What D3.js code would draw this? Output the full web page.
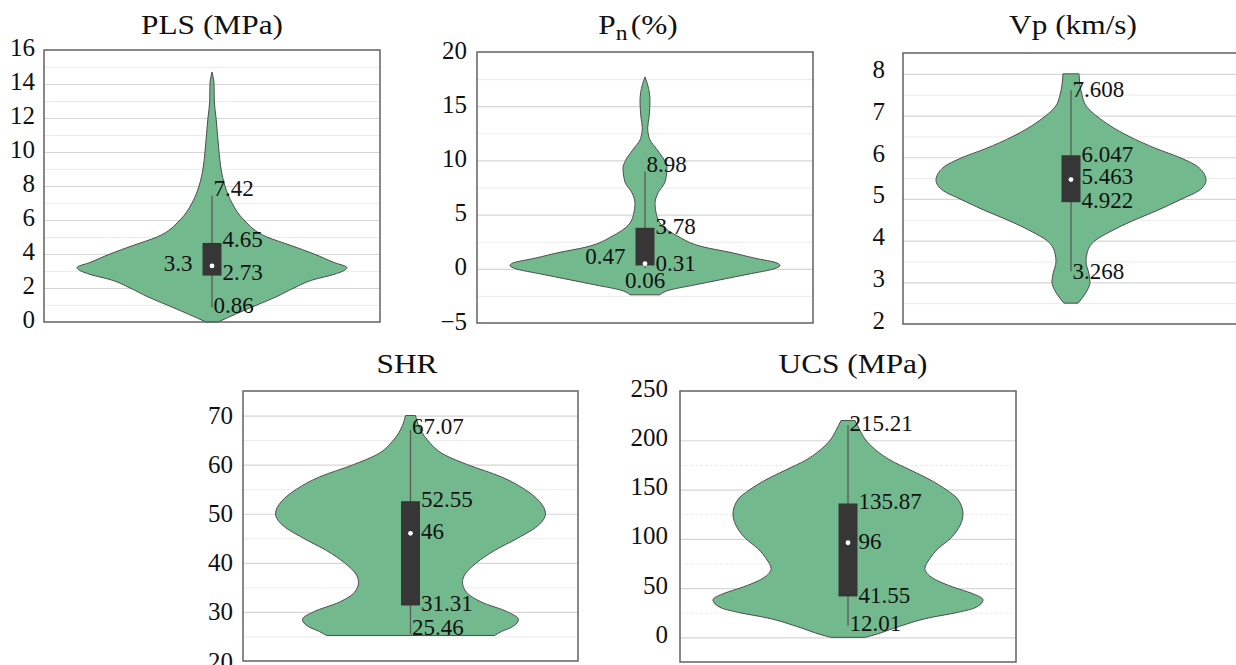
<!DOCTYPE html>
<html><head><meta charset="utf-8">
<script src="https://cdn.jsdelivr.net/npm/d3@7"></script>
<style>html,body{margin:0;padding:0;background:#fff;}svg{display:block;}</style>
</head><body>
<svg id="chart" width="1236" height="665"></svg>
<script>
// ---------------- DATA ----------------
// Violin profiles: value (y) and relative kernel density (widest = 1), top to bottom
const plsValues  = [14.7, 14, 13, 12, 11, 10, 9, 8, 7, 6, 5, 4.5, 4, 3.5, 3.2, 2.8, 2.5, 2, 1.5, 1, 0.5, 0];
const plsDensity = [0, 0.015, 0.017, 0.03, 0.041, 0.052, 0.067, 0.096, 0.148, 0.237, 0.407, 0.585, 0.756, 0.904, 1.0, 0.904, 0.756, 0.607, 0.481, 0.333, 0.185, 0.044];
const plsStats   = [0.86, 2.73, 3.3, 4.65, 7.42];      // min, q1, median, q3, max
const plsLabels  = ["0.86", "2.73", "3.3", "4.65", "7.42"];
const plsTicks   = [0, 2, 4, 6, 8, 10, 12, 14, 16];
const plsMinor   = [1, 3, 5, 7, 9, 11, 13, 15];

const pnValues  = [17.7, 17, 15.5, 14, 13, 12, 11, 10, 9.3, 8, 7, 6, 5, 4, 3, 2, 1.5, 1, 0.5, 0.3, 0, -0.5, -1, -1.5, -2, -2.4];
const pnDensity = [0, 0.019, 0.037, 0.03, 0.02, 0.033, 0.089, 0.144, 0.163, 0.148, 0.096, 0.074, 0.085, 0.126, 0.244, 0.437, 0.637, 0.807, 0.985, 1.0, 0.956, 0.763, 0.563, 0.363, 0.17, 0.111];
const pnStats   = [0.06, 0.31, 0.47, 3.78, 8.98];
const pnLabels  = ["0.06", "0.31", "0.47", "3.78", "8.98"];
const pnTicks   = [-5, 0, 5, 10, 15, 20];
const pnMinor   = [-2.5, 2.5, 7.5, 12.5, 17.5];

const vpValues  = [8.0, 7.5, 7.2, 7, 6.5, 6.2, 6, 5.75, 5.45, 5.2, 5, 4.7, 4.5, 4.2, 4, 3.7, 3.5, 3.2, 3, 2.8, 2.5];
const vpDensity = [0.059, 0.081, 0.119, 0.185, 0.43, 0.637, 0.8, 0.948, 1.0, 0.948, 0.822, 0.622, 0.474, 0.281, 0.178, 0.119, 0.111, 0.133, 0.141, 0.119, 0.052];
const vpStats   = [3.268, 4.922, 5.463, 6.047, 7.608];
const vpLabels  = ["3.268", "4.922", "5.463", "6.047", "7.608"];
const vpTicks   = [2, 3, 4, 5, 6, 7, 8];
const vpMinor   = [2.5, 3.5, 4.5, 5.5, 6.5, 7.5];

const shrValues  = [70, 68, 65, 62, 60, 57.5, 55, 52.5, 50, 47.5, 45, 42.5, 40, 37.5, 36, 34, 32, 30, 28.5, 27, 26, 25.2];
const shrDensity = [0.037, 0.059, 0.126, 0.252, 0.422, 0.674, 0.844, 0.956, 1.0, 0.941, 0.793, 0.622, 0.489, 0.4, 0.385, 0.415, 0.526, 0.719, 0.8, 0.756, 0.674, 0.622];
const shrStats   = [25.46, 31.31, 46, 52.55, 67.07];
const shrLabels  = ["25.46", "31.31", "46", "52.55", "67.07"];
const shrTicks   = [20, 30, 40, 50, 60, 70];
const shrMinor   = [25, 35, 45, 55, 65];

const ucsValues  = [220, 210, 200, 190, 180, 170, 160, 150, 140, 125, 110, 100, 90, 80, 70, 60, 50, 45, 38, 30, 25, 20, 10, 3, 0];
const ucsDensity = [0.052, 0.089, 0.133, 0.207, 0.311, 0.459, 0.607, 0.726, 0.815, 0.852, 0.815, 0.756, 0.667, 0.607, 0.57, 0.63, 0.8, 0.911, 1.0, 0.941, 0.8, 0.607, 0.356, 0.207, 0.126];
const ucsStats   = [12.01, 41.55, 96, 135.87, 215.21];
const ucsLabels  = ["12.01", "41.55", "96", "135.87", "215.21"];
const ucsTicks   = [0, 50, 100, 150, 200, 250];
const ucsMinor   = [25, 75, 125, 175];

// ---------------- LAYOUT ----------------
const panels = [
  {title: ["PLS (MPa)"], values: plsValues, density: plsDensity, stats: plsStats, labels: plsLabels, ticks: plsTicks, minor: plsMinor,
   box: [44, 50, 380, 322], domain: [0, 16], tickGap: 9, tickShift: -3, titleX: 212, titleY: 34,
   dy: [-2, -3, -2, -3, -7], medSide: "left", minMode: "start", minorDash: null},
  {title: ["P", "n", "(%)"], values: pnValues, density: pnDensity, stats: pnStats, labels: pnLabels, ticks: pnTicks, minor: pnMinor,
   box: [477, 52, 813, 323], domain: [-5, 20], tickGap: 10, tickShift: -2, titleX: 638, titleY: 34,
   dy: [12, -2, -7, -1, -7], medSide: "left", minMode: "middle", minorDash: null},
  {title: ["Vp (km/s)"], values: vpValues, density: vpDensity, stats: vpStats, labels: vpLabels, ticks: vpTicks, minor: vpMinor,
   box: [903, 53, 1239, 324], domain: [2, 8.5], tickGap: 18, tickShift: -4, titleX: 1073, titleY: 34,
   dy: [0, -2, -3, -1, -1], medSide: "right", minMode: "start", minorDash: null},
  {title: ["SHR"], values: shrValues, density: shrDensity, stats: shrStats, labels: shrLabels, ticks: shrTicks, minor: shrMinor,
   box: [243, 391, 578, 661], domain: [20, 75], tickGap: 10, tickShift: 0, titleX: 407, titleY: 373,
   dy: [-7, -2, -2, -2, -3], medSide: "right", minMode: "start", minorDash: null},
  {title: ["UCS (MPa)"], values: ucsValues, density: ucsDensity, stats: ucsStats, labels: ucsLabels, ticks: ucsTicks, minor: ucsMinor,
   box: [680, 391, 1016, 662], domain: [-25, 250], tickGap: 12, tickShift: -3, titleX: 853, titleY: 373,
   dy: [-2, -1, -1, -2, -2], medSide: "right", minMode: "start", minorDash: "3,2"}
];

const FONT = "'Liberation Serif','Times New Roman',serif";
const FILL = "#72b98e";
const svg = d3.select("#chart");
const widthScale = d3.scaleLinear().domain([0, 1]).range([0, 135]);
const boxHalf = 9.5;

panels.forEach(p => {
  const [x0, y0, x1, y1] = p.box;
  const cx = (x0 + x1) / 2;
  const w = x1 - x0;
  const y = d3.scaleLinear().domain(p.domain).range([y1, y0]);
  const g = svg.append("g");

  // minor gridlines
  const gm = g.append("g").attr("transform", `translate(${x0},0)`)
    .call(d3.axisLeft(y).tickValues(p.minor).tickSize(-w).tickFormat(""));
  gm.select(".domain").remove();
  gm.selectAll("line").attr("stroke", "#ebebeb").attr("stroke-width", 1)
    .attr("stroke-dasharray", p.minorDash);

  // major gridlines
  const gM = g.append("g").attr("transform", `translate(${x0},0)`)
    .call(d3.axisLeft(y).tickValues(p.ticks.filter(t => y(t) > y0 + 2 && y(t) < y1 - 2)).tickSize(-w).tickFormat(""));
  gM.select(".domain").remove();
  gM.selectAll("line").attr("stroke", "#d6d6d6").attr("stroke-width", 1.2);

  // tick labels
  const ga = g.append("g").attr("transform", `translate(${x0},${p.tickShift})`)
    .call(d3.axisLeft(y).tickValues(p.ticks).tickSize(0).tickPadding(p.tickGap).tickFormat(d => d < 0 ? "\u2212" + Math.abs(d) : d));
  ga.select(".domain").remove();
  ga.selectAll("text").attr("font-family", FONT).attr("font-size", 25).attr("fill", "#111");

  // violin
  const pts = p.values.map((v, i) => ({v, d: p.density[i]}));
  const area = d3.area().curve(d3.curveMonotoneY)
    .y(d => y(d.v)).x0(d => cx - widthScale(d.d)).x1(d => cx + widthScale(d.d));
  g.append("path").datum(pts).attr("d", area)
    .attr("fill", FILL).attr("stroke", "#4d4d4d").attr("stroke-width", 1);

  const [mn, q1, md, q3, mx] = p.stats;
  // whisker
  g.append("line").attr("x1", cx).attr("x2", cx).attr("y1", y(mn)).attr("y2", y(mx))
    .attr("stroke", "#5a5a5a").attr("stroke-width", 1.3);
  // box
  g.append("rect").attr("x", cx - boxHalf).attr("width", boxHalf * 2)
    .attr("y", y(q3)).attr("height", y(q1) - y(q3)).attr("fill", "#363636");
  // median dot
  g.append("circle").attr("cx", cx).attr("cy", y(md)).attr("r", 2.4).attr("fill", "#fff");

  // value labels
  const lab = (txt, x, yy, anchor) => g.append("text").attr("x", x).attr("y", yy)
    .attr("text-anchor", anchor).attr("dominant-baseline", "central")
    .attr("font-family", FONT).attr("font-size", 23).attr("fill", "#111").text(txt);
  const [lMin, lQ1, lMed, lQ3, lMax] = p.labels;
  lab(lMax, cx + 1.5, y(mx) + p.dy[4], "start");
  lab(lQ3, cx + boxHalf + 1, y(q3) + p.dy[3], "start");
  lab(lQ1, cx + boxHalf + 1, y(q1) + p.dy[1], "start");
  if (p.medSide === "left") lab(lMed, cx - boxHalf - 10, y(md) + p.dy[2], "end");
  else lab(lMed, cx + boxHalf + 1, y(md) + p.dy[2], "start");
  if (p.minMode === "middle") lab(lMin, cx, y(mn) + p.dy[0], "middle");
  else lab(lMin, cx + 1.5, y(mn) + p.dy[0], "start");

  // border
  g.append("rect").attr("x", x0).attr("y", y0).attr("width", w).attr("height", y1 - y0)
    .attr("fill", "none").attr("stroke", "#616161").attr("stroke-width", 1.5);

  // title
  const t = svg.append("text").attr("transform", `translate(${p.titleX},${p.titleY}) scale(1.12,1)`)
    .attr("text-anchor", "middle").attr("font-family", FONT).attr("font-size", 28).attr("fill", "#111");
  if (p.title.length === 1) t.text(p.title[0]);
  else {
    t.append("tspan").text(p.title[0]);
    t.append("tspan").attr("font-size", 21).attr("dy", 6).text(p.title[1]);
    t.append("tspan").attr("dy", -6).attr("dx", 3).text(p.title[2]);
  }
});
</script>
</body></html>
